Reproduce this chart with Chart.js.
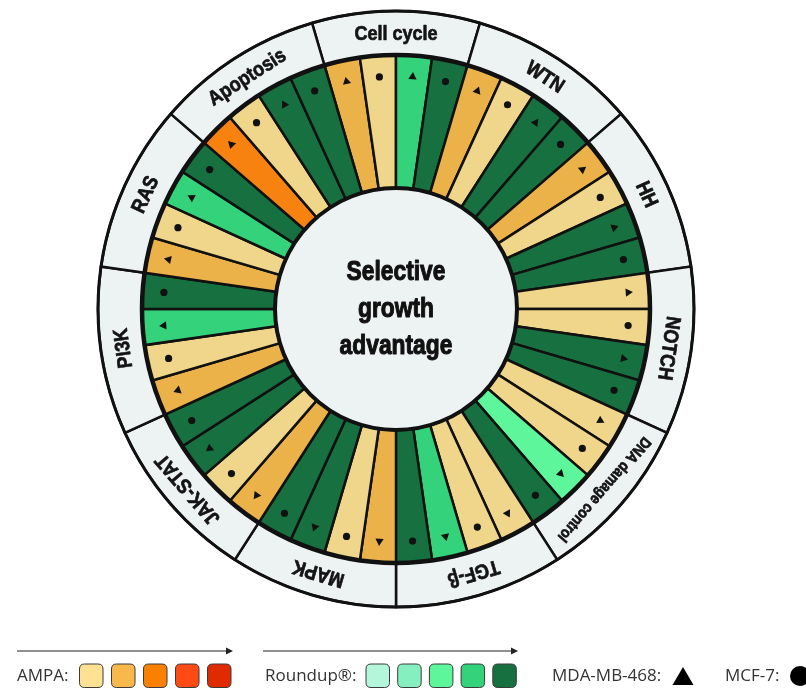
<!DOCTYPE html>
<html>
<head>
<meta charset="utf-8">
<script src="https://cdn.jsdelivr.net/npm/chart.js@4.4.1/dist/chart.umd.min.js"></script>
<style>
html,body{margin:0;padding:0;background:#ffffff;}
#wrap{position:relative;width:806px;height:688px;}
</style>
</head>
<body>
<div id="wrap"><canvas id="c" width="806" height="688"></canvas></div>
<script>
// ---- data ----
const pathways = ['Cell cycle','WTN','HH','NOTCH','DNA damage control','TGF-β','MAPK','JAK-STAT','PI3K','RAS','Apoptosis'];
// colour level 1..5 per pathway
const ampaMDA     = [2,2,2,1,1,1,2,2,2,2,3];
const ampaMCF7    = [1,1,1,1,1,1,1,1,1,1,1];
const roundupMDA  = [4,5,5,5,3,4,5,5,4,4,5];
const roundupMCF7 = [5,5,5,5,5,5,5,5,5,5,5];
const centerLines = ['Selective','growth','advantage'];
const ampaColors    = ['#EFD68A','#ECB24A','#F7820F','#FF4A14','#E22B00'];
const roundupColors = ['#B3F6DA','#86EFC0','#5EF69B','#34D27A','#17703F'];
const treatments = ['AMPA','Roundup®'];
const cellLines = ['MDA-MB-468','MCF-7'];

// ---- build wedges ----
const wedgeLabels = [], wedgeColors = [], wedgeMarkers = [];
pathways.forEach((p,i)=>{
  wedgeLabels.push(p+' AMPA '+cellLines[0]); wedgeColors.push(ampaColors[ampaMDA[i]-1]); wedgeMarkers.push('triangle');
  wedgeLabels.push(p+' AMPA '+cellLines[1]); wedgeColors.push(ampaColors[ampaMCF7[i]-1]); wedgeMarkers.push('circle');
  wedgeLabels.push(p+' Roundup '+cellLines[0]); wedgeColors.push(roundupColors[roundupMDA[i]-1]); wedgeMarkers.push('triangle');
  wedgeLabels.push(p+' Roundup '+cellLines[1]); wedgeColors.push(roundupColors[roundupMCF7[i]-1]); wedgeMarkers.push('circle');
});

const BAND = '#EDF2F3';
const INK = '#111111';
const FONT = '"Liberation Sans","Arimo","DejaVu Sans",sans-serif';

function condText(ctx, text, x, y, size, sx, sw){
  ctx.save();
  ctx.translate(x, y);
  ctx.scale(sx, 1);
  ctx.font = 'bold '+size+'px '+FONT;
  ctx.fillText(text, 0, 0);
  if (sw){ ctx.lineWidth = sw; ctx.strokeStyle = ctx.fillStyle; ctx.lineJoin='round'; ctx.strokeText(text, 0, 0); }
  ctx.restore();
}

function marker(ctx, style, x, y, rad, rotDeg){
  if (Chart.helpers && Chart.helpers.drawPoint){
    Chart.helpers.drawPoint(ctx, {pointStyle: style, radius: rad, rotation: rotDeg, borderWidth: 0}, x, y);
    return;
  }
  ctx.beginPath();
  if (style==='circle'){ ctx.arc(x,y,rad,0,Math.PI*2); }
  else {
    let r = rotDeg*Math.PI/180;
    for (let k=0;k<3;k++){ const t=r+k*2*Math.PI/3; const px=x+Math.sin(t)*rad, py=y-Math.cos(t)*rad; k?ctx.lineTo(px,py):ctx.moveTo(px,py);} ctx.closePath();
  }
  ctx.fill();
}

const wheelPlugin = {
  id:'wheel',
  afterDatasetsDraw(chart){
    const ctx = chart.ctx;
    const m0 = chart.getDatasetMeta(0), m1 = chart.getDatasetMeta(1);
    const el0 = m0.data[0];
    const cx = el0.x, cy = el0.y;
    const rOut = m0.controller.outerRadius;
    const rMid = m1.controller.outerRadius;
    const rIn = m1.controller.innerRadius;
    ctx.save();
    // centre disc
    ctx.beginPath(); ctx.arc(cx,cy,rIn,0,Math.PI*2);
    ctx.fillStyle = BAND; ctx.fill();
    ctx.lineWidth = 4; ctx.strokeStyle = INK; ctx.stroke();
    // ring between labels and wedges
    ctx.beginPath(); ctx.arc(cx,cy,rMid,0,Math.PI*2);
    ctx.lineWidth = 4.5; ctx.stroke();
    // outer ring
    ctx.beginPath(); ctx.arc(cx,cy,rOut,0,Math.PI*2);
    ctx.lineWidth = 3; ctx.stroke();
    // markers
    ctx.fillStyle = INK;
    m1.data.forEach((el,k)=>{
      const p = el.getProps(['startAngle','endAngle','innerRadius','outerRadius'], true);
      const a = (p.startAngle+p.endAngle)/2;
      const r = p.innerRadius + 0.84*(p.outerRadius-p.innerRadius);
      const x = cx + Math.cos(a)*r, y = cy + Math.sin(a)*r;
      const st = wedgeMarkers[k];
      marker(ctx, st, x, y, st==='circle'?3.6:4.8, (a+Math.PI/2)*180/Math.PI);
    });
    // pathway labels
    ctx.fillStyle = '#141414';
    ctx.textAlign = 'center'; ctx.textBaseline = 'middle';
    m0.data.forEach((el,i)=>{
      const p = el.getProps(['startAngle','endAngle','innerRadius','outerRadius'], true);
      const a = (p.startAngle+p.endAngle)/2;
      const name = pathways[i];
      ctx.save();
      ctx.translate(cx,cy);
      ctx.rotate(a+Math.PI/2);
      const long = name.length>12;
      condText(ctx, name, 0, -(p.innerRadius+p.outerRadius)/2 + 1, long?15.5:20.5, long?0.87:0.88, 0.7);
      ctx.restore();
    });
    // centre text
    ctx.fillStyle = '#111';
    centerLines.forEach((t,i)=>{ condText(ctx, t, cx, cy-37+i*37, 28.5, 0.8, 1.1); });
    ctx.restore();
  },
  afterDraw(chart){
    const ctx = chart.ctx;
    ctx.save();
    ctx.strokeStyle = '#222'; ctx.fillStyle = '#222'; ctx.lineWidth = 1.2;
    function arrow(x0,x1,y){
      ctx.beginPath(); ctx.moveTo(x0,y); ctx.lineTo(x1-4,y); ctx.stroke();
      ctx.beginPath(); ctx.moveTo(x1,y); ctx.lineTo(x1-7,y-3.5); ctx.lineTo(x1-7,y+3.5); ctx.closePath(); ctx.fill();
    }
    arrow(17,233,651);
    arrow(263,518,651);
    ctx.font = '17px "Open Sans","Noto Sans",sans-serif';
    ctx.textBaseline = 'middle'; ctx.textAlign = 'left';
    ctx.fillStyle = '#333';
    const ty = 676;
    ctx.fillText(treatments[0]+':', 17, ty);
    ctx.fillText(treatments[1]+':', 265, ty);
    ctx.fillText(cellLines[0]+':', 552, ty);
    ctx.fillText(cellLines[1]+':', 725, ty);
    function sq(x,col){
      const y=664, w=23.5, h=23.5, r=5;
      ctx.beginPath();
      ctx.moveTo(x+r,y); ctx.lineTo(x+w-r,y); ctx.quadraticCurveTo(x+w,y,x+w,y+r);
      ctx.lineTo(x+w,y+h-r); ctx.quadraticCurveTo(x+w,y+h,x+w-r,y+h);
      ctx.lineTo(x+r,y+h); ctx.quadraticCurveTo(x,y+h,x,y+h-r);
      ctx.lineTo(x,y+r); ctx.quadraticCurveTo(x,y,x+r,y); ctx.closePath();
      ctx.fillStyle = col; ctx.fill();
      ctx.lineWidth = 1; ctx.strokeStyle = '#3a3a3a'; ctx.stroke();
    }
    const legendAmpa = ['#FFE194','#F9B84C','#FC8000','#FF4A14','#E02A00'];
    legendAmpa.forEach((c,i)=>sq(79.5+i*32,c));
    roundupColors.forEach((c,i)=>sq(366+i*31.7,c));
    ctx.fillStyle = '#000';
    ctx.beginPath(); ctx.moveTo(683,667); ctx.lineTo(693.5,685); ctx.lineTo(672.5,685); ctx.closePath(); ctx.fill();
    ctx.beginPath(); ctx.arc(800,676,10,0,Math.PI*2); ctx.fill();
    ctx.restore();
  }
};

new Chart(document.getElementById('c'), {
  type:'doughnut',
  data:{
    labels: wedgeLabels,
    datasets:[
      {data: pathways.map(()=>1), backgroundColor: BAND, borderColor: INK, borderWidth: 2.5, borderJoinStyle:'miter', weight: 44},
      {data: wedgeLabels.map(()=>1), backgroundColor: wedgeColors, borderColor: INK, borderWidth: 2.5, borderJoinStyle:'miter', weight: 133}
    ]
  },
  options:{
    responsive:false,
    animation:false,
    events:[],
    rotation: -180/pathways.length,
    cutout:'40.6%',
    radius: 298,
    layout:{padding:{left:0,right:14,top:0,bottom:70}},
    plugins:{legend:{display:false}, tooltip:{enabled:false}}
  },
  plugins:[wheelPlugin]
});
</script>
</body>
</html>
